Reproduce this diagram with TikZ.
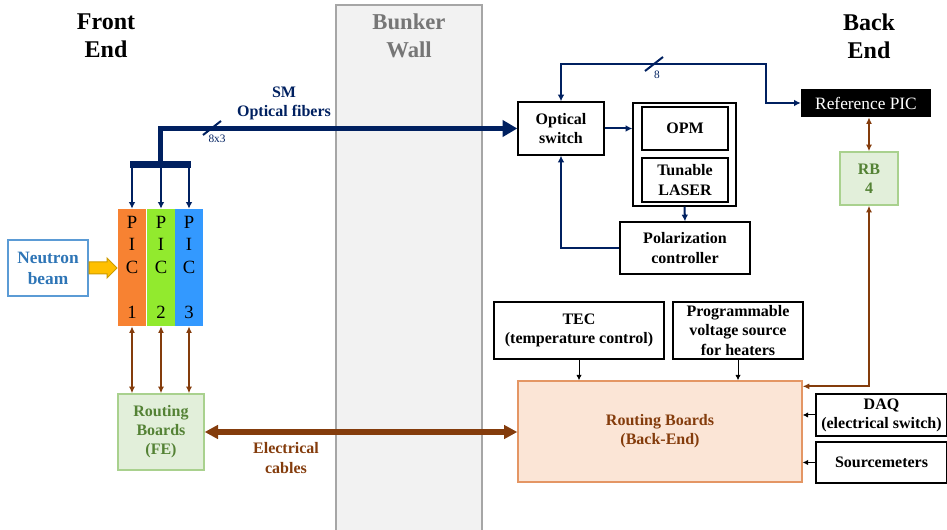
\documentclass[tikz,border=0pt]{standalone}
\usepackage{fontspec}
\setmainfont{Liberation Serif}
\usetikzlibrary{positioning,arrows.meta}
\definecolor{navy}{RGB}{0,32,96}
\definecolor{cable}{RGB}{132,60,12}
\definecolor{picor}{RGB}{247,130,50}
\definecolor{picgr}{RGB}{146,234,46}
\definecolor{picbl}{RGB}{51,153,255}
\definecolor{rbfill}{RGB}{226,239,218}
\definecolor{rbline}{RGB}{169,209,142}
\definecolor{rbtxt}{RGB}{84,130,53}
\definecolor{befill}{RGB}{251,229,214}
\definecolor{beline}{RGB}{228,150,100}
\definecolor{beamln}{RGB}{91,155,213}
\definecolor{beamtx}{RGB}{46,117,182}
\definecolor{amber}{RGB}{255,192,0}
\definecolor{walltx}{RGB}{118,118,118}

\begin{document}
\begin{tikzpicture}[x=0.75pt,y=-0.75pt,%
  sz/.style 2 args={minimum width=#1*0.75pt,minimum height=#2*0.75pt},%
  box/.style={draw,line width=1pt,align=center,inner sep=0pt,font=\fontsize{12}{14.3}\selectfont\bfseries},%
  rb/.style={box,draw=rbline,fill=rbfill,text=rbtxt},%
  pic/.style={align=center,inner sep=0pt,sz={28}{117},font=\fontsize{14}{17}\selectfont},%
  title/.style={align=center,font=\fontsize{18}{21}\selectfont\bfseries},%
  lbl/.style={align=center,font=\fontsize{12}{14.3}\selectfont\bfseries},%
  tiny/.style={text=navy,font=\fontsize{8.5}{10}\selectfont},%
  farr/.style={navy,line width=1.5pt,-{Latex[length=5pt,width=5pt]}},%
  fdbl/.style={navy,line width=1.5pt,{Latex[length=5pt,width=5pt]}-{Latex[length=5pt,width=5pt]}},%
  fiber/.style={navy,line width=3.75pt,-{Triangle[length=11pt,width=12pt]}},%
  cut/.style={navy,line width=1.5pt},%
  edbl/.style={cable,line width=1.5pt,{Latex[length=5pt,width=4.5pt]}-{Latex[length=5pt,width=4.5pt]}},%
  cables/.style={cable,line width=4.5pt,{Triangle[length=10pt,width=10pt]}-{Triangle[length=10pt,width=10pt]}},%
  karr/.style={black,line width=0.75pt,-{Latex[length=4pt,width=4pt]}}%
  ]
  \useasboundingbox (0,0) rectangle (947,530);
%
  \node (wall) [draw=black!35,line width=1.5pt,fill=black!5,sz={146}{530}] at (409,270) {};
  \node (wall-txt) [align=center,text=walltx,font=\fontsize{17}{21}\selectfont\bfseries] at (409,36) {Bunker\\Wall};
  \node (front) [title] at (106,36) {Front\\End};
  \node (back) [title] at (869,36) {Back\\End};
%
  \node (beam) [box,draw=beamln,text=beamtx,sz={80}{56},font=\fontsize{13}{15.8}\selectfont\bfseries] at (48,268) {Neutron\\beam};
  \coordinate (beam-arr) at (89,268);
  \draw[fill=amber,draw=amber!80!black,line width=0.75pt] (beam-arr) ++(0,-6) -- ++(18,0) -- ++(0,-4) -- ++(10,10)
    -- ++(-10,10) -- ++(0,-4) -- ++(-18,0) -- cycle;
  \node (pic1) [pic,fill=picor] at (132,267.5) {P\\I\\C\\[17pt]1};
  \node (pic2) [pic,fill=picgr] at (161,267.5) {P\\I\\C\\[17pt]2};
  \node (pic3) [pic,fill=picbl] at (189,267.5) {P\\I\\C\\[17pt]3};
  \node (rb-fe) [rb,sz={86}{76}] at (161,432) {Routing\\Boards\\(FE)};
%
  \node (osw) [box,sz={86}{53}] at (561,128.5) {Optical\\switch};
  \node (grp) [box,sz={103}{103}] at (684.5,154.5) {};
  \node (opm) [box,sz={86}{43}] at (685,128.5) {OPM};
  \node (laser) [box,sz={86}{44}] at (685,180) {Tunable\\LASER};
  \node (pol) [box,sz={130}{52}] at (685,248) {Polarization\\controller};
  \node (ref) [fill=black,text=white,inner sep=0pt,sz={130}{28},font=\fontsize{13}{15}\selectfont] at (866,103) {Reference PIC};
  \node (rb4) [rb,sz={58}{53}] at (869,178.5) {RB\\4};
%
  \node (tec) [box,sz={170}{57}] at (579,330.5) {TEC\\(temperature control)};
  \node (prog) [box,sz={130}{57}] at (738,330.5) {Programmable\\voltage source\\for heaters};
  \node (rb-be) [box,draw=beline,fill=befill,text=cable,sz={284}{101}] at (660,431.5) {Routing Boards\\(Back-End)};
  \node (daq) [box,sz={131}{42}] at (881.5,415) {DAQ\\(electrical switch)};
  \node (src) [box,sz={131}{41}] at (881.5,462.5) {Sourcemeters};
%
  \node (sm) [lbl,text=navy] at (284,103) {SM\\Optical fibers};
  \node (elec) [lbl,text=cable] at (286,458) {Electrical\\cables};
%
  \coordinate (bus) at (160,165);
  \coordinate (bus-l) at (130,165);
  \coordinate (bus-r) at (191,165);
  \coordinate (fib-cut) at (212,128);
  \coordinate (ref-knee) at (766,64);
  \coordinate (ref-cut) at (654,64);
%
  \draw[navy,line width=5.25pt] (bus-l) -- (bus-r);
  \draw[fiber] (bus) |- (osw.west);
  \draw[farr] (pic1.north |- bus) -- (pic1.north);
  \draw[farr] (pic2.north |- bus) -- (pic2.north);
  \draw[farr] (pic3.north |- bus) -- (pic3.north);
  \draw[cut] ([shift={(-9,7)}]fib-cut) -- ([shift={(9,-7)}]fib-cut);
  \node (fib-n) [tiny] at (217,139) {8x3};
%
  \draw[farr] (osw.east) -- (osw.east -| grp.west);
  \draw[farr] (grp.south) -- (pol.north);
  \draw[farr] (pol.west) -| (osw.south);
  \draw[fdbl] (osw.north) |- (ref-knee) |- (ref.west);
  \draw[cut] ([shift={(-9,7)}]ref-cut) -- ([shift={(9,-7)}]ref-cut);
  \node (ref-n) [tiny] at (657,75) {8};
%
  \draw[edbl] (ref.south -| rb4.north) -- (rb4.north);
  \draw[edbl] (rb4.south) |- ([yshift=-4.5pt]rb-be.north east);
  \draw[karr] (tec.south) -- (tec.south |- rb-be.north);
  \draw[karr] (prog.south) -- (prog.south |- rb-be.north);
  \draw[karr] (daq.west) -- (daq.west -| rb-be.east);
  \draw[karr] (src.west) -- (src.west -| rb-be.east);
%
  \draw[edbl] (pic1.south) -- (pic1.south |- rb-fe.north);
  \draw[edbl] (pic2.south) -- (pic2.south |- rb-fe.north);
  \draw[edbl] (pic3.south) -- (pic3.south |- rb-fe.north);
  \draw[cables] (rb-fe.east) -- (rb-fe.east -| rb-be.west);
%
\end{tikzpicture}
\end{document}
